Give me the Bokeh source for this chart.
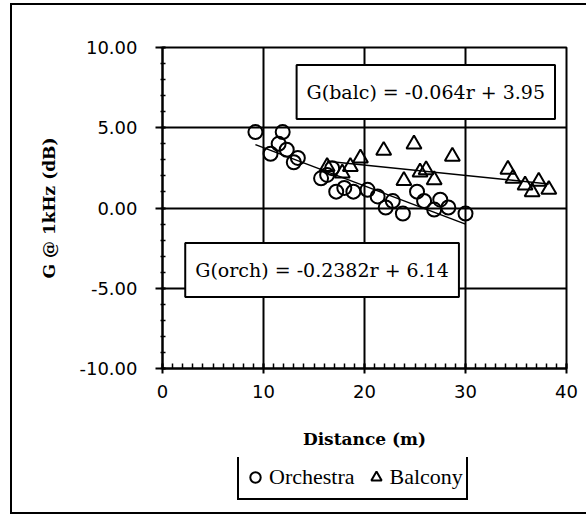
from bokeh.plotting import figure
from bokeh.layouts import column
from bokeh.models import (Range1d, SingleIntervalTicker, NumeralTickFormatter, Label,
                          Legend, LegendItem, InlineStyleSheet)
from bokeh.embed import file_html
from bokeh.resources import INLINE

# ---- data ----
orch_x = [9.2, 10.7, 11.5, 11.9, 12.3, 13.0, 13.4, 15.7, 16.3, 16.8, 17.2, 18.0, 18.9,
          20.3, 21.3, 22.1, 22.8, 23.8, 25.2, 25.9, 26.9, 27.5, 28.3, 30.0]
orch_y = [4.73, 3.38, 4.0, 4.73, 3.63, 2.85, 3.12, 1.85, 2.06, 2.48, 1.02, 1.25, 1.02,
          1.13, 0.72, 0.03, 0.43, -0.35, 1.02, 0.44, -0.1, 0.52, 0.03, -0.35]
balc_x = [16.3, 17.8, 18.6, 19.6, 21.9, 23.9, 24.9, 25.5, 26.1, 26.9, 28.7,
          34.2, 34.7, 35.9, 36.6, 37.25, 38.25]
balc_y = [2.58, 2.17, 2.58, 3.1, 3.58, 1.71, 3.98, 2.23, 2.38, 1.75, 3.21,
          2.4, 1.85, 1.42, 1.0, 1.65, 1.15]
orch_slope, orch_intercept = -0.2382, 6.14
balc_slope, balc_intercept = -0.064, 3.95
series_names = ["Orchestra", "Balcony"]
orch_label = "G(orch) = -0.2382r + 6.14"
balc_label = "G(balc) = -0.064r + 3.95"
x_title = "Distance (m)"
y_title = "G @ 1kHz (dB)"
x_range = (0, 40)
y_range = (-10, 10)

circle_style = dict(marker="circle", size=14, line_color="black", line_width=2, fill_alpha=0)
tri_style = dict(marker="triangle", size=15, line_color="black", line_width=2, fill_alpha=0)

p = figure(width=586, height=457, output_backend="svg", toolbar_location=None,
           x_range=Range1d(*x_range), y_range=Range1d(*y_range),
           min_border_left=162, min_border_right=20, min_border_top=47,
           min_border_bottom=89)
p.outline_line_color = "black"
p.outline_line_width = 2
p.background_fill_color = "white"
p.border_fill_color = "white"

# axes
xt = SingleIntervalTicker(interval=10, num_minor_ticks=10)
yt = SingleIntervalTicker(interval=5, num_minor_ticks=5)
p.xaxis.ticker = xt
p.yaxis.ticker = yt
p.xgrid.ticker = xt
p.ygrid.ticker = yt
p.yaxis.formatter = NumeralTickFormatter(format="0.00")
for ax in (p.xaxis, p.yaxis):
    ax.axis_line_color = "black"
    ax.axis_line_width = 2
    ax.major_tick_line_color = "black"
    ax.major_tick_line_width = 2
    ax.minor_tick_line_color = "black"
    ax.minor_tick_line_width = 1.5
    ax.major_label_text_font = "DejaVu Sans"
    ax.major_label_text_font_size = "18px"
    ax.major_label_text_color = "black"
    ax.axis_label_text_font = "DejaVu Serif"
    ax.axis_label_text_font_style = "bold"
    ax.axis_label_text_font_size = "17px"
    ax.axis_label_text_color = "black"
p.xaxis.major_tick_in = 5
p.xaxis.major_tick_out = 5
p.xaxis.minor_tick_in = 5
p.xaxis.minor_tick_out = 0
p.xaxis.major_label_standoff = 11
p.xaxis.axis_label = x_title
p.xaxis.axis_label_standoff = 28
p.yaxis.major_tick_in = 3
p.yaxis.major_tick_out = 7
p.yaxis.minor_tick_in = 3
p.yaxis.minor_tick_out = 2
p.yaxis.major_label_standoff = 18
p.yaxis.axis_label = y_title
p.yaxis.axis_label_standoff = 17

for g in (p.xgrid, p.ygrid):
    g.grid_line_color = "black"
    g.grid_line_width = 2
    g.grid_line_alpha = 1

# trend lines over each series' data range
ox = [min(orch_x), max(orch_x)]
bx = [min(balc_x), max(balc_x)]
p.line(ox, [orch_slope * v + orch_intercept for v in ox], line_color="black", line_width=1.5)
p.line(bx, [balc_slope * v + balc_intercept for v in bx], line_color="black", line_width=1.5)

p.scatter(orch_x, orch_y, **circle_style)
p.scatter(balc_x, balc_y, **tri_style)

# equation boxes
for txt, lx, ly in ((balc_label, 26.07, 7.23), (orch_label, 15.8, -3.86)):
    p.add_layout(Label(x=lx, y=ly, text=txt, text_align="center", text_baseline="middle",
                       text_font="DejaVu Serif", text_font_size="19px", text_color="black",
                       background_fill_color="white", background_fill_alpha=1,
                       border_line_color="black", border_line_width=2,
                       padding=dict(left=10, right=10, top=16, bottom=16)))

# legend strip below the chart (series renderers hidden, only the legend shows)
lg = figure(width=586, height=60, output_backend="svg", toolbar_location=None,
            x_axis_location=None, y_axis_location=None,
            x_range=Range1d(*x_range), y_range=Range1d(*y_range),
            min_border_left=162, min_border_right=20, min_border_top=0, min_border_bottom=0)
lg.outline_line_color = None
lg.xgrid.visible = False
lg.ygrid.visible = False
lg.border_fill_color = "white"
lr_o = lg.scatter(orch_x, orch_y, visible=False, **circle_style)
lr_b = lg.scatter(balc_x, balc_y, visible=False, **tri_style)
legend = Legend(items=[LegendItem(label=series_names[0], renderers=[lr_o]),
                       LegendItem(label=series_names[1], renderers=[lr_b])],
                orientation="horizontal", location=(75, 17),
                label_text_font="Liberation Serif", label_text_font_size="22px",
                label_text_color="black", glyph_width=26, glyph_height=36,
                label_standoff=1, spacing=8, padding=3, margin=0,
                border_line_color="black", border_line_width=2, border_line_alpha=1,
                background_fill_color="white", background_fill_alpha=1,
                inactive_fill_alpha=0)
lg.add_layout(legend, "center")

layout = column(p, lg, spacing=0)
# outer frame around the whole chart (CSS only, does not affect layout)
layout.stylesheets = [InlineStyleSheet(css="""
:host::after { content: ""; position: absolute; left: 10px; top: 3px;
  width: 600px; height: 511px; border: 2px solid black; box-sizing: border-box;
  pointer-events: none; }
""")]

open("out.html", "w").write(file_html(layout, INLINE))
